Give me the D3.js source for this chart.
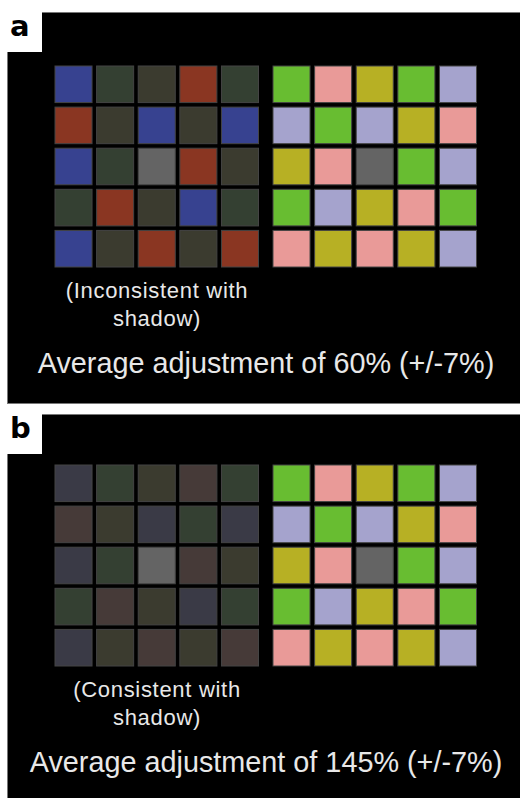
<!DOCTYPE html>
<html>
<head>
<meta charset="utf-8">
<script src="https://cdn.jsdelivr.net/npm/d3@7"></script>
<style>
  body { margin: 0; background: #fff; }
  svg { display: block; }
</style>
</head>
<body>
<div id="chart"></div>
<script>
// colour swatches used in the figure
const colorNames = ['blue', 'red', 'dkgreen', 'olive', 'gray', 'slate', 'brown', 'lime', 'pink', 'mustard', 'lavender'];
const colorValues = ['#374290', '#8a3622', '#344032', '#3b3b2f', '#646464', '#3a3a46', '#463a38', '#68bd31', '#e99a98', '#b7b024', '#a5a3cd'];

// panel a, left grid (inconsistent with shadow)
const gridA = [
  ['blue', 'dkgreen', 'olive', 'red', 'dkgreen'],
  ['red', 'olive', 'blue', 'olive', 'blue'],
  ['blue', 'dkgreen', 'gray', 'red', 'olive'],
  ['dkgreen', 'red', 'olive', 'blue', 'dkgreen'],
  ['blue', 'olive', 'red', 'olive', 'red']
];

// panel b, left grid (consistent with shadow)
const gridB = [
  ['slate', 'dkgreen', 'olive', 'brown', 'dkgreen'],
  ['brown', 'olive', 'slate', 'dkgreen', 'slate'],
  ['slate', 'dkgreen', 'gray', 'brown', 'olive'],
  ['dkgreen', 'brown', 'olive', 'slate', 'dkgreen'],
  ['slate', 'olive', 'brown', 'olive', 'brown']
];

// right grid, same in both panels
const gridRight = [
  ['lime', 'pink', 'mustard', 'lime', 'lavender'],
  ['lavender', 'lime', 'lavender', 'mustard', 'pink'],
  ['mustard', 'pink', 'gray', 'lime', 'lavender'],
  ['lime', 'lavender', 'mustard', 'pink', 'lime'],
  ['pink', 'mustard', 'pink', 'mustard', 'lavender']
];

const panelLabels = ['a', 'b'];
const captionLines = [['(Inconsistent with', 'shadow)'], ['(Consistent with', 'shadow)']];
const adjustments = ['60%', '145%'];
const adjustmentErr = '+/-7%';

const W = 520, H = 798;
const fill = d3.scaleOrdinal(colorNames, colorValues);

const svg = d3.select('#chart').append('svg')
  .attr('width', W)
  .attr('height', H);

// panel boxes: top, bottom of black area
const panels = [
  { top: 12, bottom: 403, gridTop: 66, left: gridA },
  { top: 414, bottom: 800, gridTop: 465, left: gridB }
];

const idx = d3.range(5);
const xLeft = d3.scaleBand().domain(idx).range([55, 258.5]).paddingInner(0.11);
const xRight = d3.scaleBand().domain(idx).range([273, 476.5]).paddingInner(0.11);

panels.forEach((p, i) => {
  const g = svg.append('g');

  g.append('rect')
    .attr('x', 7.5)
    .attr('y', p.top + 0.5)
    .attr('width', W)
    .attr('height', p.bottom - p.top)
    .attr('fill', '#000')
    .attr('stroke', '#777')
    .attr('stroke-width', 1);

  // white label notch
  g.append('rect')
    .attr('x', 7)
    .attr('y', p.top)
    .attr('width', 35)
    .attr('height', 40)
    .attr('fill', '#fff');

  g.append('text')
    .attr('x', 10)
    .attr('y', p.top + 24)
    .attr('font-family', '"DejaVu Sans", sans-serif')
    .attr('font-weight', 'bold')
    .attr('font-size', 29)
    .attr('fill', '#000')
    .text(panelLabels[i]);

  const y = d3.scaleBand().domain(idx).range([p.gridTop, p.gridTop + 201]).paddingInner(0.11);

  const drawGrid = (grid, x) => {
    grid.forEach((row, r) => {
      g.selectAll(null)
        .data(row)
        .join('rect')
        .attr('x', (d, c) => x(c))
        .attr('y', y(r))
        .attr('width', x.bandwidth())
        .attr('height', y.bandwidth())
        .attr('fill', d => fill(d))
        .attr('stroke', '#444')
        .attr('stroke-width', 1);
    });
  };
  drawGrid(p.left, xLeft);
  drawGrid(gridRight, xRight);

  const base = p.gridTop + 201;
  const cap = g.append('text')
    .attr('text-anchor', 'middle')
    .attr('font-family', '"Liberation Sans", Arial, sans-serif')
    .attr('font-size', 22)
    .attr('letter-spacing', 0.7)
    .attr('fill', '#e8e8e8');
  captionLines[i].forEach((line, k) => {
    cap.append('tspan')
      .attr('x', 157)
      .attr('y', base + 31 + k * 28)
      .text(line);
  });

  g.append('text')
    .attr('x', 266)
    .attr('y', base + 106)
    .attr('text-anchor', 'middle')
    .attr('font-family', '"Liberation Sans", Arial, sans-serif')
    .attr('font-size', 28.8)
    .attr('fill', '#e8e8e8')
    .text(`Average adjustment of ${adjustments[i]} (${adjustmentErr})`);
});
</script>
</body>
</html>
